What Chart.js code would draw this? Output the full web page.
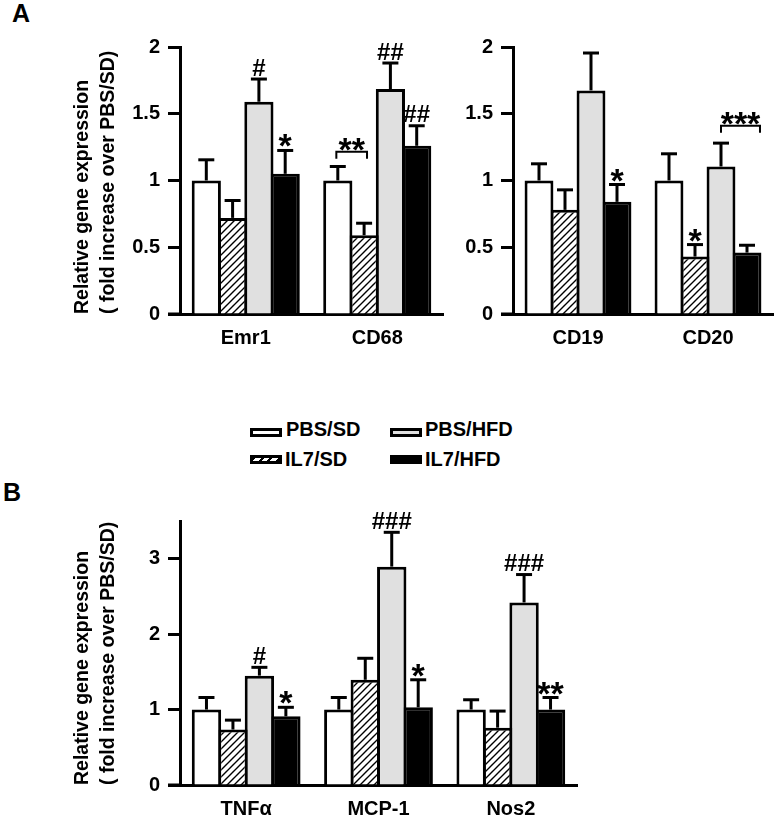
<!DOCTYPE html>
<html>
<head>
<meta charset="utf-8">
<script src="https://cdn.jsdelivr.net/npm/chart.js@4.4.1/dist/chart.umd.min.js"></script>
<style>
  body { margin: 0; background: #fff; }
  #page { position: relative; width: 778px; height: 820px; background: #fff; font-family: 'Liberation Sans', Arial, sans-serif; }
  canvas { position: absolute; }
  .letter { position: absolute; font-weight: bold; font-size: 25px; line-height: 25px; }
  .lg-box { position: absolute; width: 26px; height: 3px; border: 3px solid #000; }
  .lg-text { position: absolute; font-weight: bold; font-size: 20px; line-height: 20px; white-space: nowrap; }
</style>
</head>
<body>
<div id="page">
  <div class="letter" style="left:12px;top:1px">A</div>
  <div class="letter" style="left:3px;top:480px">B</div>
  <canvas id="chartA1" width="450" height="370" style="left:0;top:0"></canvas>
  <canvas id="chartA2" width="328" height="370" style="left:450px;top:0"></canvas>
  <canvas id="chartB" width="600" height="340" style="left:0;top:480px"></canvas>

  <div class="lg-box" style="left:250px;top:428px;background:#fff"></div>
  <div class="lg-text" style="left:286px;top:419px">PBS/SD</div>
  <div class="lg-box" style="left:390px;top:428px;background:#e0e0e0"></div>
  <div class="lg-text" style="left:425px;top:419px">PBS/HFD</div>
  <div class="lg-box" style="left:250px;top:455px;background:repeating-linear-gradient(135deg,#000 0 2px,#fff 2px 6px)"></div>
  <div class="lg-text" style="left:285px;top:449px">IL7/SD</div>
  <div class="lg-box" style="left:390px;top:455px;background:#000"></div>
  <div class="lg-text" style="left:425px;top:449px">IL7/HFD</div>
</div>

<script>
// ---- data ----
const groups = ['PBS/SD', 'IL7/SD', 'PBS/HFD', 'IL7/HFD'];

const genesA1 = ['Emr1', 'CD68'];
const pbsSdA1 = [1.0, 1.0];
const il7SdA1 = [0.72, 0.59];
const pbsHfdA1 = [1.59, 1.685];
const il7HfdA1 = [1.05, 1.26];
const semA1 = [[0.155, 0.105], [0.13, 0.09], [0.17, 0.195], [0.175, 0.15]];

const genesA2 = ['CD19', 'CD20'];
const pbsSdA2 = [1.0, 1.0];
const il7SdA2 = [0.78, 0.43];
const pbsHfdA2 = [1.675, 1.105];
const il7HfdA2 = [0.84, 0.46];
const semA2 = [[0.125, 0.2], [0.15, 0.09], [0.28, 0.175], [0.13, 0.055]];

const genesB = ['TNFα', 'MCP-1', 'Nos2'];
const pbsSdB = [1.0, 1.0, 1.0];
const il7SdB = [0.735, 1.395, 0.76];
const pbsHfdB = [1.45, 2.895, 2.42];
const il7HfdB = [0.91, 1.03, 1.0];
const semB = [[0.16, 0.16, 0.13], [0.125, 0.285, 0.22], [0.11, 0.455, 0.37], [0.12, 0.365, 0.16]];

const yTicksA = [0, 0.5, 1, 1.5, 2];
const yTicksB = [0, 1, 2, 3];

// significance marks: [gene index, group index, text]
const marksA1 = [[0, 2, '#'], [0, 3, '*'], [1, 2, '##'], [1, 3, '##']];
const marksA2 = [[0, 3, '*'], [1, 1, '*']];
const marksB = [[0, 2, '#'], [0, 3, '*'], [1, 2, '###'], [1, 3, '*'], [2, 2, '###'], [2, 3, '**']];
// brackets: [gene index, from group, to group, level, text]
const bracketsA1 = [[1, -0.05, 1.1, 1.215, '**']];
const bracketsA2 = [[1, 2, 3.45, 1.41, '***']];

// ---- drawing ----
const FONT = "'Liberation Sans', Arial, sans-serif";
const yTitle = ['Relative gene expression', '( fold increase over PBS/SD)'];

function hatch(ctx) {
  const c = document.createElement('canvas');
  c.width = 7; c.height = 7;
  const p = c.getContext('2d');
  p.fillStyle = '#fff';
  p.fillRect(0, 0, 7, 7);
  p.strokeStyle = '#000';
  p.lineWidth = 1.4;
  p.beginPath();
  p.moveTo(-1, 8); p.lineTo(8, -1);
  p.moveTo(-1, 1); p.lineTo(1, -1);
  p.moveTo(6, 8); p.lineTo(8, 6);
  p.stroke();
  return ctx.createPattern(c, 'repeat');
}

const extras = {
  id: 'extras',
  afterDatasetsDraw(chart, args, opts) {
    const { ctx, chartArea, scales: { y } } = chart;
    const line = (x1, y1, x2, y2) => { ctx.beginPath(); ctx.moveTo(x1, y1); ctx.lineTo(x2, y2); ctx.stroke(); };
    ctx.save();
    ctx.strokeStyle = '#000';
    ctx.fillStyle = '#000';
    ctx.lineWidth = 3;
    // x axis sticks out left of the y axis
    line(chartArea.left - 12, chartArea.bottom, chartArea.left, chartArea.bottom);

    const capY = [];
    opts.sem.forEach((errs, i) => {
      const meta = chart.getDatasetMeta(i);
      capY[i] = [];
      meta.data.forEach((bar, j) => {
        const v = chart.data.datasets[i].data[j];
        const top = y.getPixelForValue(v + errs[j]);
        capY[i][j] = top;
        line(bar.x, bar.y, bar.x, top);
        line(bar.x - 8, top, bar.x + 8, top);
      });
    });

    ctx.textAlign = 'center';
    const drawMark = (text, x, yy) => {
      if (text.includes('#')) {
        ctx.font = 'bold 24px ' + FONT;
        ctx.fillText(text, x, yy - 3.5);
      } else {
        ctx.font = 'bold 34px ' + FONT;
        ctx.fillText(text, x, yy + 7);
      }
    };
    opts.marks.forEach(([g, s, text]) => {
      const bar = chart.getDatasetMeta(s).data[g];
      drawMark(text, bar.x, capY[s][g]);
    });

    const barX = (g, pos) => {
      const i = Math.round(pos);
      const bar = chart.getDatasetMeta(i).data[g];
      return bar.x + (pos - i) * bar.width;
    };
    ctx.lineWidth = 2;
    opts.brackets.forEach(([g, a, b, level, text]) => {
      const x1 = barX(g, a), x2 = barX(g, b);
      const yy = y.getPixelForValue(level);
      ctx.beginPath();
      ctx.moveTo(x1, yy + 7); ctx.lineTo(x1, yy); ctx.lineTo(x2, yy); ctx.lineTo(x2, yy + 7);
      ctx.stroke();
      ctx.font = 'bold 34px ' + FONT;
      ctx.fillText(text, (x1 + x2) / 2, yy + 9);
    });
    ctx.restore();
  }
};

function makeChart(id, genes, series, sem, yTicks, yMax, opt) {
  const ctx = document.getElementById(id).getContext('2d');
  const fills = ['#fff', hatch(ctx), '#e0e0e0', '#000'];
  return new Chart(ctx, {
    type: 'bar',
    data: {
      labels: genes,
      datasets: series.map((d, i) => ({
        label: groups[i],
        data: d,
        backgroundColor: fills[i],
        borderColor: '#000',
        borderWidth: 3,
        borderSkipped: 'bottom',
        categoryPercentage: 0.8,
        barPercentage: 1.11
      }))
    },
    options: {
      responsive: false,
      animation: false,
      layout: { padding: opt.padding },
      plugins: {
        legend: { display: false },
        tooltip: { enabled: false },
        extras: { sem: sem, marks: opt.marks, brackets: opt.brackets }
      },
      scales: {
        x: {
          grid: { display: true, drawOnChartArea: false, drawTicks: false },
          border: { display: true, color: '#000', width: 3 },
          ticks: { color: '#000', padding: opt.xPad, font: { family: FONT, size: 20, weight: 'bold' } },
          afterFit: s => { s.height = opt.xHeight; }
        },
        y: {
          min: 0,
          max: yMax,
          afterBuildTicks: s => { s.ticks = yTicks.map(v => ({ value: v })); },
          grid: { display: true, drawOnChartArea: false, drawTicks: true, tickLength: 12, tickColor: '#000', tickWidth: 3 },
          border: { display: true, color: '#000', width: 3 },
          ticks: {
            color: '#000', padding: 8, font: { family: FONT, size: 20, weight: 'bold' },
            callback: v => String(v)
          },
          title: {
            display: opt.title,
            text: yTitle,
            color: '#000',
            align: 'start',
            font: { family: FONT, size: 19.5, weight: 'bold', lineHeight: 1.35 },
            padding: { top: 69, bottom: 0 }
          },
          afterFit: s => { s.width = opt.yWidth; }
        }
      }
    },
    plugins: [extras]
  });
}

makeChart('chartA1', genesA1, [pbsSdA1, il7SdA1, pbsHfdA1, il7HfdA1], semA1, yTicksA, 2, {
  padding: { left: 0, right: 7, top: 47, bottom: 0 }, yWidth: 180, xHeight: 56, xPad: 12,
  title: true, marks: marksA1, brackets: bracketsA1
});
makeChart('chartA2', genesA2, [pbsSdA2, il7SdA2, pbsHfdA2, il7HfdA2], semA2, yTicksA, 2, {
  padding: { left: 0, right: 5, top: 47, bottom: 0 }, yWidth: 63, xHeight: 56, xPad: 12,
  title: false, marks: marksA2, brackets: bracketsA2
});
makeChart('chartB', genesB, [pbsSdB, il7SdB, pbsHfdB, il7HfdB], semB, yTicksB, 3.5, {
  padding: { left: 0, right: 23, top: 41, bottom: 0 }, yWidth: 180, xHeight: 35, xPad: 12,
  title: true, marks: marksB, brackets: []
});
</script>
</body>
</html>
